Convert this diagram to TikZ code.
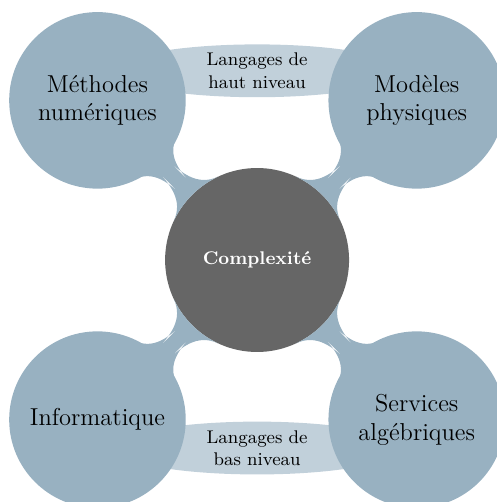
\documentclass[tikz,border=0pt]{standalone}
\usepackage{tikz}
\usetikzlibrary{mindmap,shapes.geometric}

\definecolor{mapblue}{RGB}{152,177,193}

\tikzset{
  topic/.style={concept, minimum size=3cm, text width=2.6cm, align=center, font=\large, text=black},
  bridge/.style={ellipse, fill=mapblue!60, minimum width=4.93cm, minimum height=0.91cm, inner sep=0pt, align=center, font=\small}
}

\begin{document}
\begin{tikzpicture}[mindmap, concept color=mapblue, level 1/.append style={level distance=3.89cm}]
  \useasboundingbox (-4.43,-4.17) rectangle (4.12,4.48);

  % annotations behind the concepts
  \node[bridge] (haut) at (0,3.26) {Langages de\\haut niveau};
  \node[bridge] (bas) at (0,-3.24) {Langages de\\bas niveau};

  \node[concept, fill=black!60, draw=none, minimum size=3.17cm, text width=2.8cm, align=center, text=white, font=\small\bfseries] (complexite) {Complexit\'e}
    child[grow=135] {node[topic] (methodes) {M\'ethodes\\num\'eriques}}
    child[grow=45] {node[topic] (modeles) {Mod\`eles\\physiques}}
    child[grow=-45] {node[topic] (services) {Services\\alg\'ebriques}}
    child[grow=-135] {node[topic] (informatique) {Informatique}};
\end{tikzpicture}
\end{document}
